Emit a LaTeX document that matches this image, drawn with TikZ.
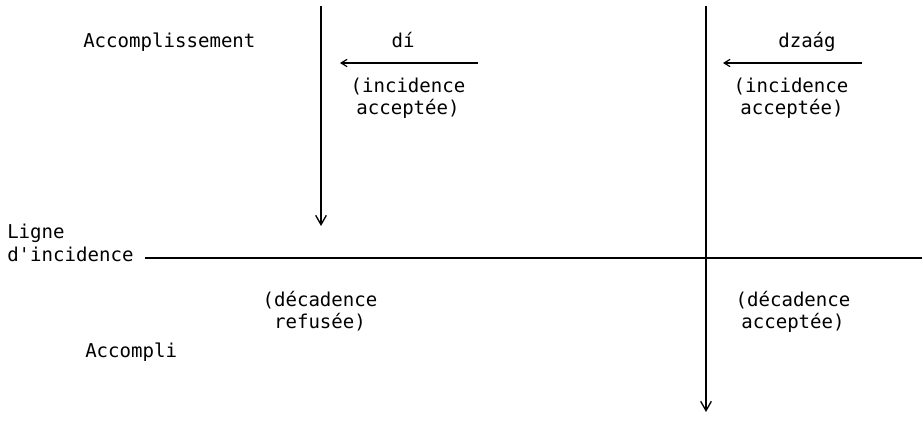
\documentclass[tikz,border=0pt]{standalone}
\usepackage{fontspec}
\setmonofont{DejaVu Sans Mono}
\usetikzlibrary{arrows.meta}
\begin{document}
\begin{tikzpicture}[x=0.75pt,y=-0.75pt,
  lbl/.style={font=\ttfamily\fontsize{14.3}{16.5}\selectfont, inner sep=0pt},
  axis/.style={line width=1pt},
  down/.style={axis, -{Straight Barb[length=7pt,width=8pt,line width=1pt]}},
  leftarr/.style={line width=0.9pt, -{Straight Barb[length=4.5pt,width=5.5pt,line width=0.9pt]}}]
\useasboundingbox (0,0) rectangle (922,421);
% coordinates
\coordinate (ltop) at (321,6);
\coordinate (lbot) at (321,226);
\coordinate (rtop) at (706,6);
\coordinate (rbot) at (706,412);
\coordinate (hend) at (922,258);
\coordinate (a1s) at (478,63);
\coordinate (a1e) at (340,63);
\coordinate (a2s) at (862,63);
\coordinate (a2e) at (723,63);
% texts
\node[lbl, anchor=base west] (accomplissement) at (83,47) {Accomplissement};
\node[lbl, anchor=base] (di) at (403,47) {dí};
\node[lbl, anchor=base] (inc1a) at (408,92) {(incidence};
\node[lbl, anchor=base] (inc1b) at (408,114) {acceptée)};
\node[lbl, anchor=base] (dzaag) at (807,47) {dzaág};
\node[lbl, anchor=base] (inc2a) at (791,92) {(incidence};
\node[lbl, anchor=base] (inc2b) at (792,114) {acceptée)};
\node[lbl, anchor=base west] (ligne) at (7,238) {Ligne};
\node[lbl, anchor=base west] (dinc) at (7,261) {d'incidence};
\node[lbl, anchor=base] (dec1a) at (320,306) {(décadence};
\node[lbl, anchor=base] (dec1b) at (320,328) {refusée)};
\node[lbl, anchor=base] (dec2a) at (793,306) {(décadence};
\node[lbl, anchor=base] (dec2b) at (793,328) {acceptée)};
\node[lbl, anchor=base west] (accompli) at (85,357) {Accompli};
% lines
\coordinate (hstart) at ([xshift=8.5pt]dinc.east |- hend);
\draw[axis] (hstart) -- (hend);
\draw[down] (ltop) -- (lbot);
\draw[down] (rtop) -- (rbot);
\draw[leftarr] (a1s) -- (a1e);
\draw[leftarr] (a2s) -- (a2e);
\end{tikzpicture}
\end{document}
